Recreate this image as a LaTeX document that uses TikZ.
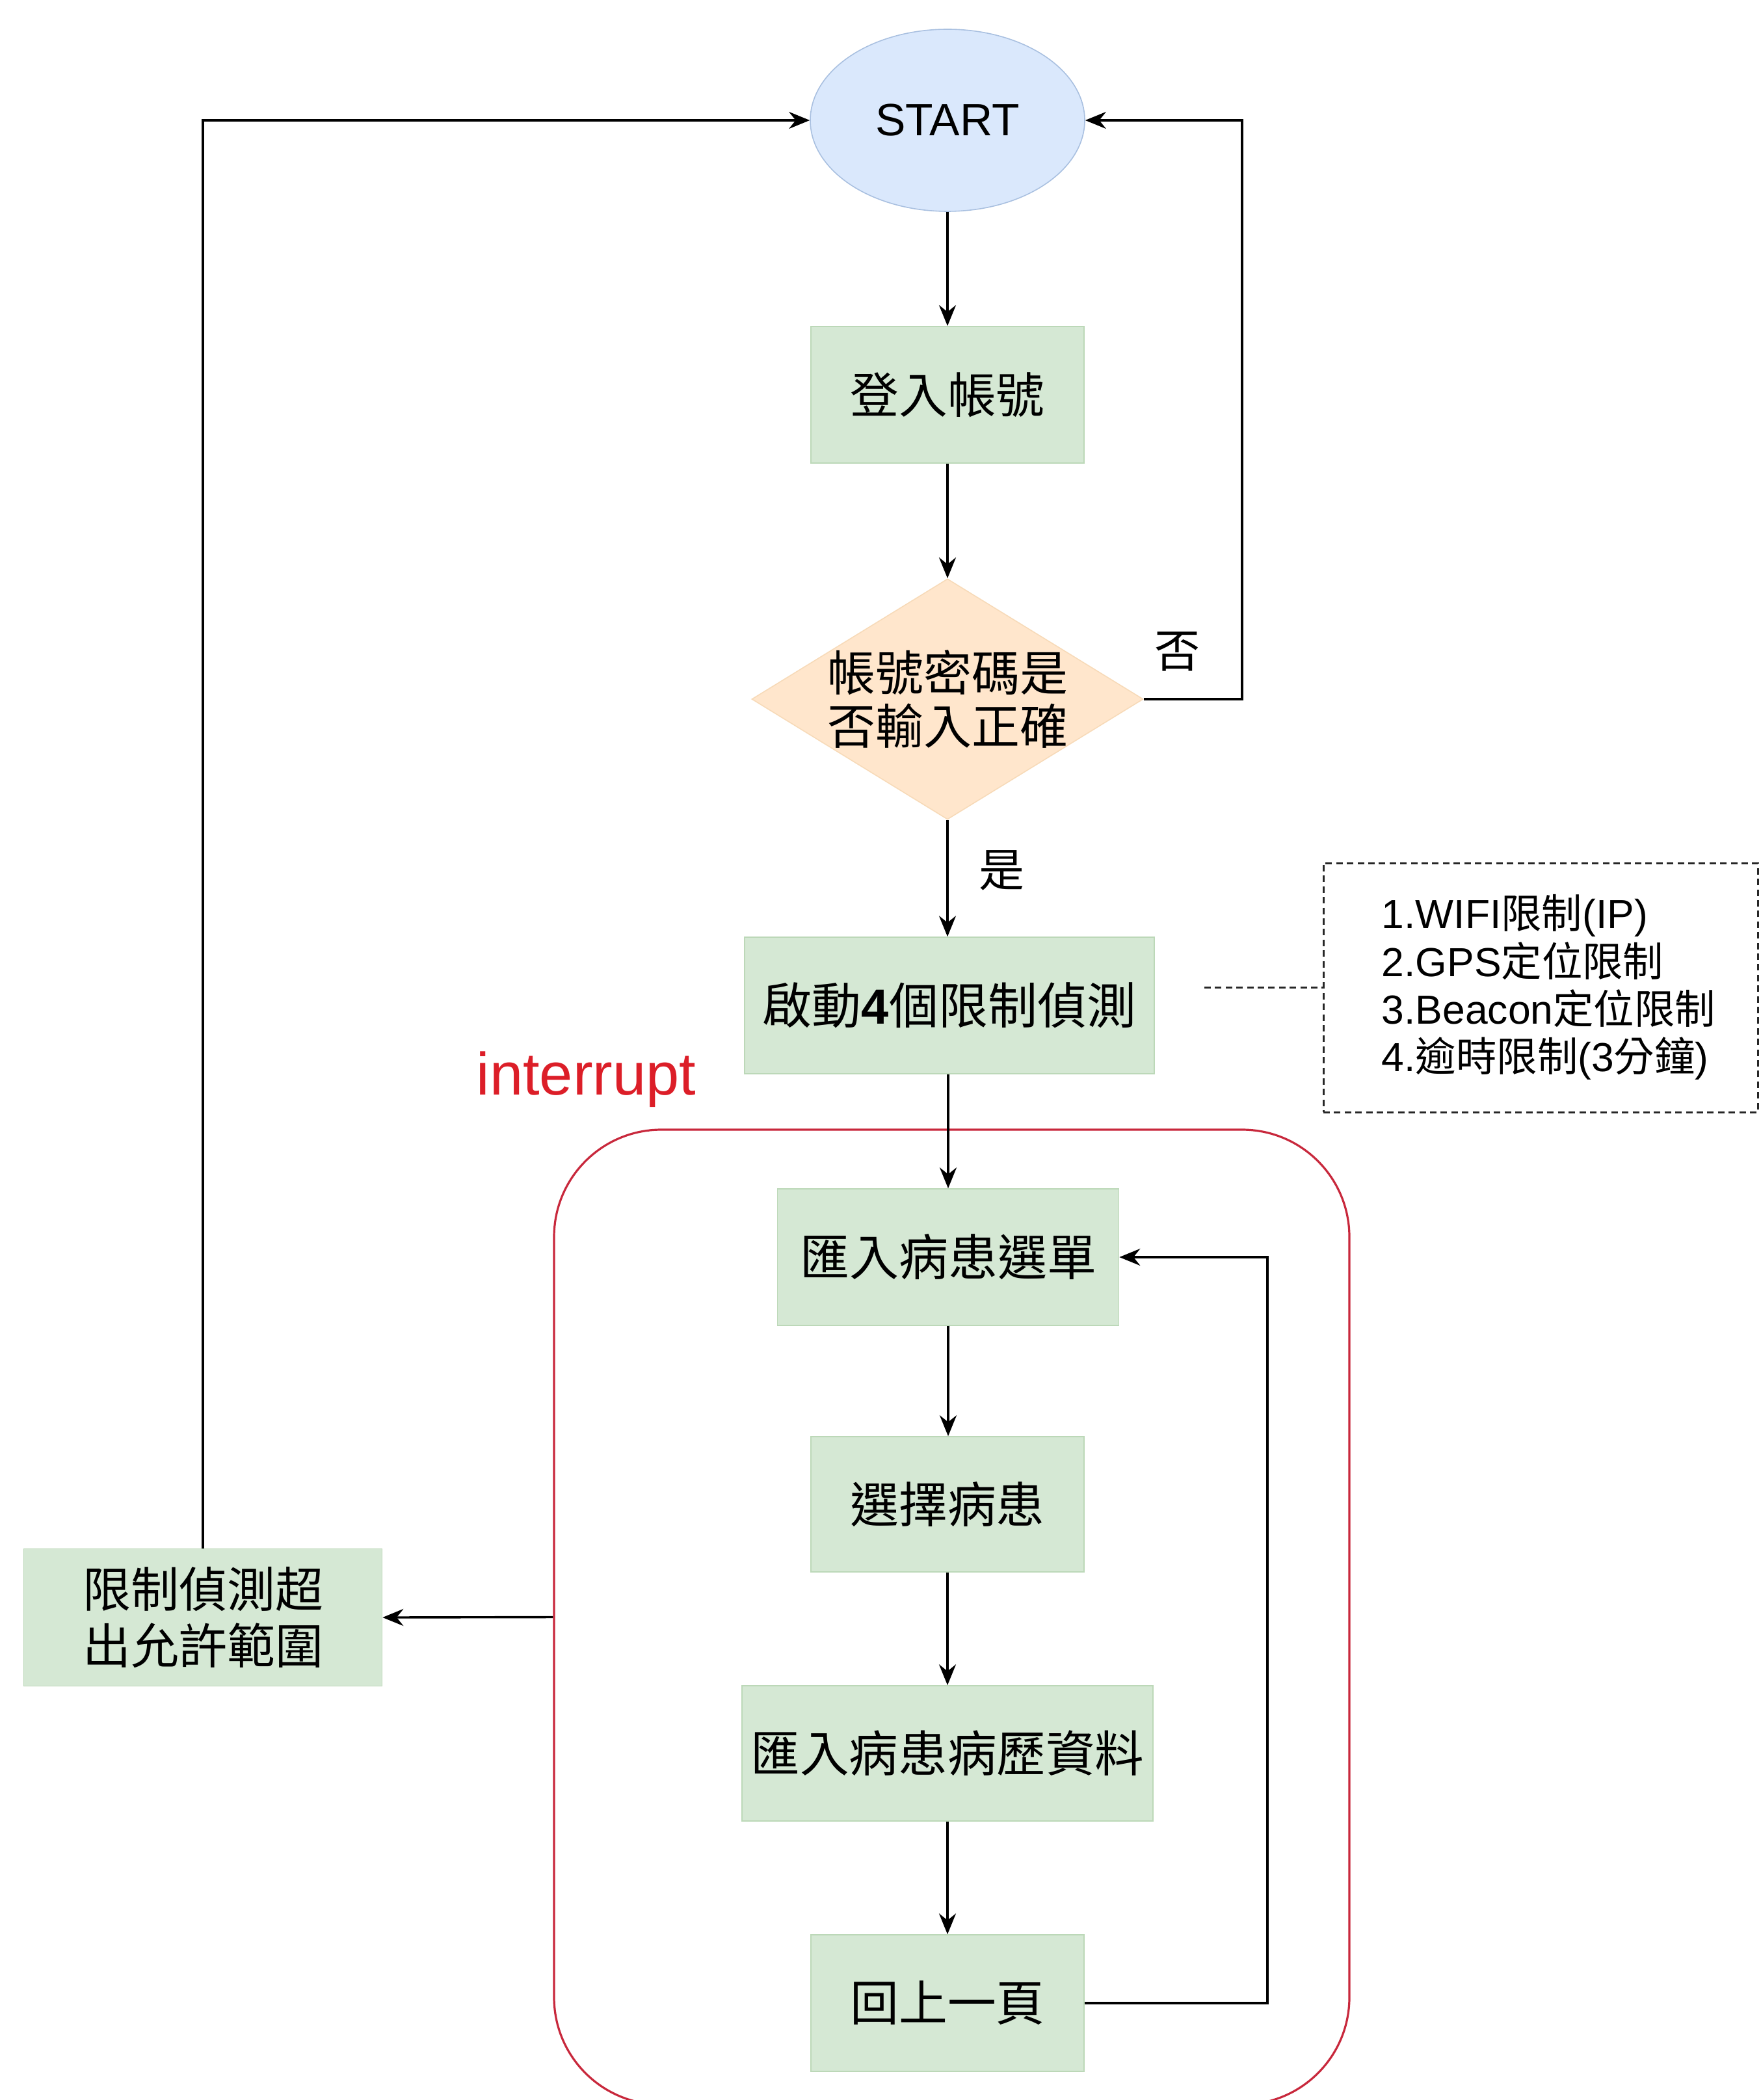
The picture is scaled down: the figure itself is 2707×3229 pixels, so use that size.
\documentclass[tikz,border=0pt]{standalone}
\usepackage{fontspec}
\setmainfont{Noto Sans CJK TC}
\newfontfamily\lat{Liberation Sans}
\usetikzlibrary{shapes.geometric,arrows.meta}
\definecolor{gfill}{HTML}{D5E8D4}
\definecolor{gline}{HTML}{BCD8B8}
\definecolor{bfill}{HTML}{DAE8FC}
\definecolor{bline}{HTML}{A9C0E0}
\definecolor{ofill}{HTML}{FFE6CC}
\definecolor{oline}{HTML}{F7DAB8}
\definecolor{redl}{HTML}{C8283C}
\definecolor{redt}{HTML}{DC1E28}
\begin{document}
\begin{tikzpicture}[x=0.25pt,y=-0.25pt,
  proc/.style={rectangle, fill=gfill, draw=gline, line width=0.4pt, inner sep=0pt, align=center, text=black, font=\fontsize{18.7}{21.6}\selectfont},
  conn/.style={line width=0.85pt, -{Stealth[length=8pt,width=6.5pt]}},
  notebox/.style={draw=black!85, line width=0.75pt, dash pattern=on 2.5pt off 1.6pt, inner sep=0pt},
  lbl/.style={font=\fontsize{17.5}{20}\selectfont, inner sep=0pt},
]
\useasboundingbox (0,0) rectangle (2707,3229);
\clip (0,0) rectangle (2707,3229);

% red interrupt frame
\node[draw=redl, line width=0.8pt, rounded corners=41.25pt, minimum width=305.75pt, minimum height=374.75pt, inner sep=0pt] (intr) at (1463.5,2486.5) {};
\node[text=redt, font=\lat\fontsize{23}{26}\selectfont, anchor=base west, inner sep=0pt] (intlabel) at (732,1683) {interrupt};

% nodes
\node[ellipse, fill=bfill, draw=bline, line width=0.4pt, minimum width=105.5pt, minimum height=70pt, inner sep=0pt, font=\lat\fontsize{17.4}{20}\selectfont] (start) at (1457,185) {START};
\node[proc, minimum width=105pt, minimum height=52.5pt] (login) at (1457,607) {登入帳號};
\node[diamond, fill=ofill, draw=oline, line width=0.4pt, minimum width=150.5pt, minimum height=92.5pt, inner sep=0pt] (chk) at (1457,1075) {};
\node[align=center, inner sep=0pt, font=\fontsize{18.5}{20.6}\selectfont] (chktxt) at (chk) {帳號密碼是\\否輸入正確};
\node[lbl] (no) at (1810,1002) {否};
\node[lbl] (yes) at (1540,1338) {是};
\node[proc, minimum width=157.5pt, minimum height=52.5pt, font=\fontsize{19}{22}\selectfont] (act) at (1460,1546) {啟動{\lat\bfseries 4}個限制偵測};

\node[notebox, minimum width=167pt, minimum height=95.75pt] (note) at (2369,1518.5) {};
\node[anchor=west, align=left, inner sep=0pt, font=\fontsize{15.6}{18.3}\selectfont] (notetxt) at (2124,1518) {{\lat 1.WIFI}限制{\lat (IP)}\\{\lat 2.GPS}定位限制\\{\lat 3.Beacon}定位限制\\{\lat 4.}逾時限制{\lat (3}分鐘{\lat )}};
\coordinate (dstart) at (1852,1518.5);

\node[proc, minimum width=131.25pt, minimum height=52.5pt, font=\fontsize{19}{22}\selectfont] (sel1) at (1458,1933) {匯入病患選單};
\node[proc, minimum width=105pt, minimum height=52pt] (sel2) at (1457,2313) {選擇病患};
\node[proc, minimum width=158pt, minimum height=52pt, font=\fontsize{18.9}{22}\selectfont] (rec) at (1457,2696) {匯入病患病歷資料};
\node[proc, minimum width=105pt, minimum height=52.5pt] (back) at (1457,3080) {回上一頁};
\node[proc, minimum width=137.75pt, minimum height=52.75pt, font=\fontsize{18.5}{21.6}\selectfont] (lim) at (312,2487) {限制偵測超\\出允許範圍};

\coordinate (rt) at (1910,185);
\coordinate (lp) at (1949,1933);

% connectors
\draw[conn] (start.south) -- (login.north);
\draw[conn] (login.south) -- (chk.north);
\draw[conn] (chk.south) -- (act.north -| chk.south);
\draw[conn] (chk.east) -| (rt) -- (start.east);
\draw[notebox] (dstart) -- (note.west);
\draw[conn] (act.south -| sel1.north) -- (sel1.north);
\draw[conn] (sel1.south) -- (sel2.north -| sel1.south);
\draw[conn] (sel2.south) -- (rec.north);
\draw[conn] (rec.south) -- (back.north);
\draw[conn] (back.east) -| (lp) -- (sel1.east);
\draw[conn] (intr.west) -- (lim.east);
\draw[conn] (lim.north) |- (start.west);
\end{tikzpicture}
\end{document}
